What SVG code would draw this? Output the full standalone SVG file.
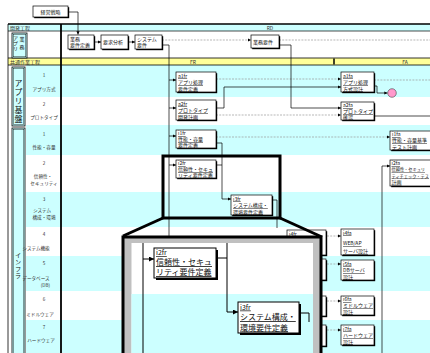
<svg xmlns="http://www.w3.org/2000/svg" width="430" height="353" viewBox="0 0 430 353">
<style>
.bx{fill:#fff;stroke:#000;stroke-width:0.7}
.sh{fill:#000}
.t{font-family:"Noto Sans CJK JP","Noto Sans",sans-serif;font-size:5px;fill:#111}
.tl{font-family:"Noto Sans CJK JP","Noto Sans",sans-serif;font-size:8px;fill:#111}
.vt{font-family:"Noto Sans CJK JP","Noto Sans",sans-serif;fill:#111;writing-mode:vertical-rl;text-anchor:start}
.ts{font-size:4.2px}
.u{text-decoration:underline}
.lb{font-family:"Noto Sans CJK JP","Noto Sans",sans-serif;font-size:4.6px;fill:#333;text-anchor:middle}
.hd{font-family:"Noto Sans CJK JP","Noto Sans",sans-serif;font-size:5px;fill:#333}
.c{fill:none;stroke:#000;stroke-width:0.7}
.d{fill:none;stroke:#999;stroke-width:0.7;stroke-dasharray:2 1.2}
.cy{fill:#ccffff}
</style>
<defs>
<marker id="ah" viewBox="0 0 6 6" refX="6" refY="3" markerWidth="3.2" markerHeight="3.2" orient="auto" markerUnits="userSpaceOnUse"><path d="M0,0L6,3L0,6z" fill="#000"/></marker>
<marker id="ah2" viewBox="0 0 6 6" refX="6" refY="3" markerWidth="5" markerHeight="5" orient="auto" markerUnits="userSpaceOnUse"><path d="M0,0L6,3L0,6z" fill="#000"/></marker>
</defs>
<rect width="430" height="353" fill="#fff"/>
<g id="bands">
<rect x="8" y="24" width="422" height="7" class="cy"/>
<rect x="8" y="58" width="422" height="7" fill="#ffff99"/>
<rect x="26" y="65" width="404" height="32" class="cy"/>
<rect x="26" y="125" width="404" height="30" class="cy"/>
<rect x="26" y="192" width="404" height="35" class="cy"/>
<rect x="26" y="256" width="404" height="35" class="cy"/>
<rect x="26" y="320" width="404" height="33" class="cy"/>
<line x1="8" y1="24" x2="430" y2="24" stroke="#000" stroke-width="1.4"/>
<line x1="8" y1="31" x2="430" y2="31" stroke="#000" stroke-width="0.7"/>
<line x1="8" y1="58" x2="430" y2="58" stroke="#000" stroke-width="0.8"/>
<line x1="8" y1="65" x2="430" y2="65" stroke="#000" stroke-width="0.8"/>
<line x1="8" y1="24" x2="8" y2="353" stroke="#000" stroke-width="0.8"/>
<line x1="61" y1="24" x2="61" y2="353" stroke="#000" stroke-width="1.8"/>
<line x1="334" y1="58.5" x2="334" y2="64.5" stroke="#000" stroke-width="1.5"/>
<text x="10" y="29.6" class="hd">開発工程</text>
<text x="270" y="29.8" class="hd" text-anchor="middle">RD</text>
<text x="10" y="63.6" class="hd">共通作業工程</text>
<text x="193" y="63.6" class="hd" text-anchor="middle">FR</text>
<text x="405" y="63.6" class="hd" text-anchor="middle">FA</text>
</g>
<g id="left-groups">
<rect x="12" y="33" width="15" height="25" class="cy" stroke="#000" stroke-width="0.8"/>
<rect x="13.2" y="34.2" width="12.6" height="22.6" fill="none" stroke="#000" stroke-width="0.4"/>
<text x="15.5" y="35.5" class="vt" style="font-size:5px">アプリ</text>
<text x="22" y="36.5" class="vt" style="font-size:5px;letter-spacing:3px">業務</text>
<rect x="12" y="67" width="13" height="59" class="cy" stroke="#000" stroke-width="0.8"/>
<rect x="13.2" y="68.2" width="10.6" height="56.6" fill="none" stroke="#000" stroke-width="0.4"/>
<text x="18.5" y="79" class="vt" style="font-size:8px;letter-spacing:1px">アプリ基盤</text>
<rect x="12" y="128" width="13" height="230" class="cy" stroke="#000" stroke-width="0.8"/>
<rect x="13.2" y="129.2" width="10.6" height="228" fill="none" stroke="#000" stroke-width="0.4"/>
<text x="18" y="252" class="vt" style="font-size:6.2px;letter-spacing:0.6px">インフラ</text>
</g>
<g id="row-labels">
<text x="44" y="77" class="lb">1</text><text x="44" y="90.5" class="lb">アプリ方式</text>
<text x="44" y="106" class="lb">2</text><text x="44" y="119" class="lb">プロトタイプ</text>
<text x="44" y="135.5" class="lb">1</text><text x="44" y="148.5" class="lb">性能・容量</text>
<text x="44" y="164.5" class="lb">2</text><text x="43" y="177.5" class="lb">信頼性・</text><text x="44" y="184.5" class="lb">セキュリティ</text>
<text x="44" y="200.5" class="lb">3</text><text x="42" y="211.5" class="lb">システム</text><text x="44" y="218.5" class="lb">構成・環境</text>
<text x="44" y="235.5" class="lb">4</text><text x="36" y="249.5" class="lb">システム機能</text>
<text x="44" y="264.5" class="lb">5</text><text x="36" y="279.5" class="lb">データベース</text><text x="50" y="286.5" class="lb" style="text-anchor:end">(DB)</text>
<text x="44" y="300.5" class="lb">6</text><text x="40" y="315.5" class="lb">ミドルウェア</text>
<text x="44" y="328.5" class="lb">7</text><text x="41" y="341.5" class="lb">ハードウェア</text>
</g>
<g id="connectors">
<path class="c" d="M68,12H78V34.5" marker-end="url(#ah)"/>
<path class="c" d="M94,42H101" marker-end="url(#ah)"/>
<path class="c" d="M128,42H135" marker-end="url(#ah)"/>
<path class="d" d="M162,40H251" marker-end="url(#ah)"/>
<path class="d" d="M279,40H430"/>
<path class="c" d="M162,45H169V353"/>
<path class="c" d="M169,80H176" marker-end="url(#ah)"/>
<path class="c" d="M169,108H176" marker-end="url(#ah)"/>
<path class="c" d="M169,136H176" marker-end="url(#ah)"/>
<path class="c" d="M169,165H176" marker-end="url(#ah)"/>
<path class="d" d="M216,79H341" marker-end="url(#ah)"/>
<path class="c" d="M216,108H224V87H341" marker-end="url(#ah)"/>
<path class="d" d="M216,115H341" marker-end="url(#ah)"/>
<path class="c" d="M279,45H291V108H341" marker-end="url(#ah)"/>
<path class="d" d="M374,80H430"/>
<path class="c" d="M374,86H377V93H387.5" marker-end="url(#ah)"/>
<path class="c" d="M374,116H430"/>
<path class="d" d="M216,137H390" marker-end="url(#ah)"/>
<path class="c" d="M216,143H222V199H231" marker-end="url(#ah)"/>
<path class="c" d="M216,165H222"/>
<path class="c" d="M272,200H277V228"/>
<path class="c" d="M382,353V166H390" marker-end="url(#ah)"/>
<path class="d" d="M327,236H341" marker-end="url(#ah)"/>
<path class="d" d="M327,264H341" marker-end="url(#ah)"/>
<path class="d" d="M327,301H341" marker-end="url(#ah)"/>
<path class="d" d="M327,330H341" marker-end="url(#ah)"/>
</g>
<g id="keiei"><rect x="34.2" y="7.2" width="35" height="11" class="sh"/><rect x="33" y="6" width="35" height="11" class="bx"/><text x="50.5" y="13.6" class="t" text-anchor="middle">経営戦略</text></g>
<g id="gyomu-teigi"><rect x="69.2" y="36.2" width="26" height="14" class="sh"/><rect x="68" y="35" width="26" height="14" class="bx"/><text x="70" y="40.5" class="t">業務</text><text x="70" y="47" class="t">要件定義</text></g>
<g id="youkyu"><rect x="102.2" y="36.2" width="27" height="14" class="sh"/><rect x="101" y="35" width="27" height="14" class="bx"/><text x="103" y="44" class="t">要求分析</text></g>
<g id="system-yoken"><rect x="136.2" y="36.2" width="27" height="14" class="sh"/><rect x="135" y="35" width="27" height="14" class="bx"/><text x="137" y="40.5" class="t">システム</text><text x="137" y="47" class="t">要件</text></g>
<g id="gyomu-yoken"><rect x="252.2" y="36.2" width="28" height="13" class="sh"/><rect x="251" y="35" width="28" height="13" class="bx"/><text x="253" y="43.5" class="t">業務要件</text></g>
<g id="a1fr"><rect x="177.2" y="73.2" width="40" height="20" class="sh"/><rect x="176" y="72" width="40" height="20" class="bx"/><text x="178" y="77.5" class="t u">a1fr</text><text x="178" y="84" class="t u">アプリ処理</text><text x="178" y="90.5" class="t u">要件定義</text></g>
<g id="a2fr"><rect x="177.2" y="101.2" width="40" height="20" class="sh"/><rect x="176" y="100" width="40" height="20" class="bx"/><text x="178" y="105.5" class="t u">a2fr</text><text x="178" y="112" class="t u">プロトタイプ</text><text x="178" y="118.5" class="t u">開発計画</text></g>
<g id="i1fr"><rect x="177.2" y="131.2" width="40" height="18" class="sh"/><rect x="176" y="130" width="40" height="18" class="bx"/><text x="178" y="135" class="t u">i1fr</text><text x="178" y="141" class="t u">性能・容量</text><text x="178" y="147" class="t u">要件定義</text></g>
<g id="i2fr"><rect x="177.2" y="161.2" width="40" height="18" class="sh"/><rect x="176" y="160" width="40" height="18" class="bx"/><text x="178" y="165" class="t u">i2fr</text><text x="178" y="171" class="t u">信頼性・セキュ</text><text x="178" y="177" class="t u">リティ要件定義</text></g>
<g id="i3fr"><rect x="232.2" y="196.2" width="41" height="20" class="sh"/><rect x="231" y="195" width="41" height="20" class="bx"/><text x="233" y="200.5" class="t u">i3fr</text><text x="233" y="207" class="t u">システム構成・</text><text x="233" y="213.5" class="t u">環境要件定義</text></g>
<g id="i4fr"><rect x="288.2" y="231.2" width="39" height="25" class="sh"/><rect x="287" y="230" width="39" height="25" class="bx"/><text x="289" y="235.5" class="t u">i4fr</text></g>
<g id="i5fr"><rect x="288.2" y="260.2" width="39" height="21" class="sh"/><rect x="287" y="259" width="39" height="21" class="bx"/></g>
<g id="i6fr"><rect x="288.2" y="297.2" width="39" height="20" class="sh"/><rect x="287" y="296" width="39" height="20" class="bx"/></g>
<g id="i7fr"><rect x="288.2" y="326.2" width="39" height="21" class="sh"/><rect x="287" y="325" width="39" height="21" class="bx"/></g>
<g id="a1fa"><rect x="342.2" y="73.2" width="33" height="20" class="sh"/><rect x="341" y="72" width="33" height="20" class="bx"/><text x="343" y="77.5" class="t u">a1fa</text><text x="343" y="84" class="t u">アプリ処理</text><text x="343" y="90.5" class="t u">方式設計</text></g>
<g id="a2fa"><rect x="342.2" y="103.2" width="33" height="18" class="sh"/><rect x="341" y="102" width="33" height="18" class="bx"/><text x="343" y="107" class="t u">a2fa</text><text x="343" y="113" class="t u">プロトタイプ</text><text x="343" y="119" class="t u">確認</text></g>
<g id="i1fa"><rect x="391.2" y="132.2" width="50" height="19" class="sh"/><rect x="390" y="131" width="50" height="19" class="bx"/><text x="392" y="136" class="t u">i1fa</text><text x="392" y="142.3" class="t u">性能・容量基準</text><text x="392" y="148.6" class="t u">テスト計画</text></g>
<g id="i2fa"><rect x="391.2" y="161.2" width="50" height="26" class="sh"/><rect x="390" y="160" width="50" height="26" class="bx"/><text x="391.5" y="165" class="t u">i2fa</text><text x="391.5" y="171.3" class="t ts u">信頼性・セキュリ</text><text x="391.5" y="177.6" class="t ts u">ティチェック・テス</text><text x="391.5" y="183.9" class="t u">計画</text></g>
<g id="i4fa"><rect x="342.2" y="230.2" width="33" height="26" class="sh"/><rect x="341" y="229" width="33" height="26" class="bx"/><text x="343" y="234.5" class="t u">i4fa</text><text x="343" y="245" class="t u">WEB/AP</text><text x="343" y="253" class="t u">サーバ設計</text></g>
<g id="i5fa"><rect x="342.2" y="261.2" width="33" height="20" class="sh"/><rect x="341" y="260" width="33" height="20" class="bx"/><text x="343" y="265.5" class="t u">i5fa</text><text x="343" y="272" class="t u">DBサーバ</text><text x="343" y="278.5" class="t u">設計</text></g>
<g id="i6fa"><rect x="342.2" y="297.2" width="33" height="19" class="sh"/><rect x="341" y="296" width="33" height="19" class="bx"/><text x="343" y="301" class="t u">i6fa</text><text x="343" y="307.3" class="t u">ミドルウェア</text><text x="343" y="313.6" class="t u">設計</text></g>
<g id="i7fa"><rect x="342.2" y="326.2" width="33" height="20" class="sh"/><rect x="341" y="325" width="33" height="20" class="bx"/><text x="343" y="330.5" class="t u">i7fa</text><text x="343" y="337" class="t u">ハードウェア</text><text x="343" y="343.5" class="t u">設計</text></g>
<g id="circle6"><circle cx="392" cy="93" r="4.3" fill="#ff99cc" stroke="#444" stroke-width="0.6"/></g>
<g id="magnifier">
<rect x="163" y="156" width="117" height="62" fill="none" stroke="#000" stroke-width="3"/>
<line x1="163" y1="218" x2="123" y2="236" stroke="#000" stroke-width="3"/>
<line x1="280" y1="218" x2="322" y2="237" stroke="#000" stroke-width="3"/>
<rect x="123" y="237" width="198" height="120" fill="#c0c0c0" stroke="#000" stroke-width="3"/>
<rect x="131.5" y="243" width="181.5" height="115" fill="#fff"/>
<rect x="131.5" y="294" width="181.5" height="64" class="cy"/>
<path d="M143,243V353" fill="none" stroke="#000" stroke-width="1"/>
<path d="M143,259H154" fill="none" stroke="#000" stroke-width="1" marker-end="url(#ah2)"/>
<path d="M216,258H227M227,243V312H238" fill="none" stroke="#000" stroke-width="1" marker-end="url(#ah2)"/>
<path d="M299,313H309V322" fill="none" stroke="#000" stroke-width="1"/>
<g id="i2fr-zoom"><rect x="156" y="250" width="62" height="30" class="sh"/><rect x="154" y="248" width="62" height="30" fill="#fff" stroke="#000" stroke-width="1"/><text x="156" y="255" class="tl u" style="font-size:7px">i2fr</text><text x="156" y="265" class="tl u">信頼性・セキュ</text><text x="156" y="275" class="tl u">リティ要件定義</text></g>
<g id="i3fr-zoom"><rect x="240" y="304" width="61" height="31" class="sh"/><rect x="238" y="302" width="61" height="31" fill="#fff" stroke="#000" stroke-width="1"/><text x="240" y="309.5" class="tl u" style="font-size:7px">i3fr</text><text x="240" y="320" class="tl u">システム構成・</text><text x="240" y="330.5" class="tl u">環境要件定義</text></g>
</g>
</svg>
